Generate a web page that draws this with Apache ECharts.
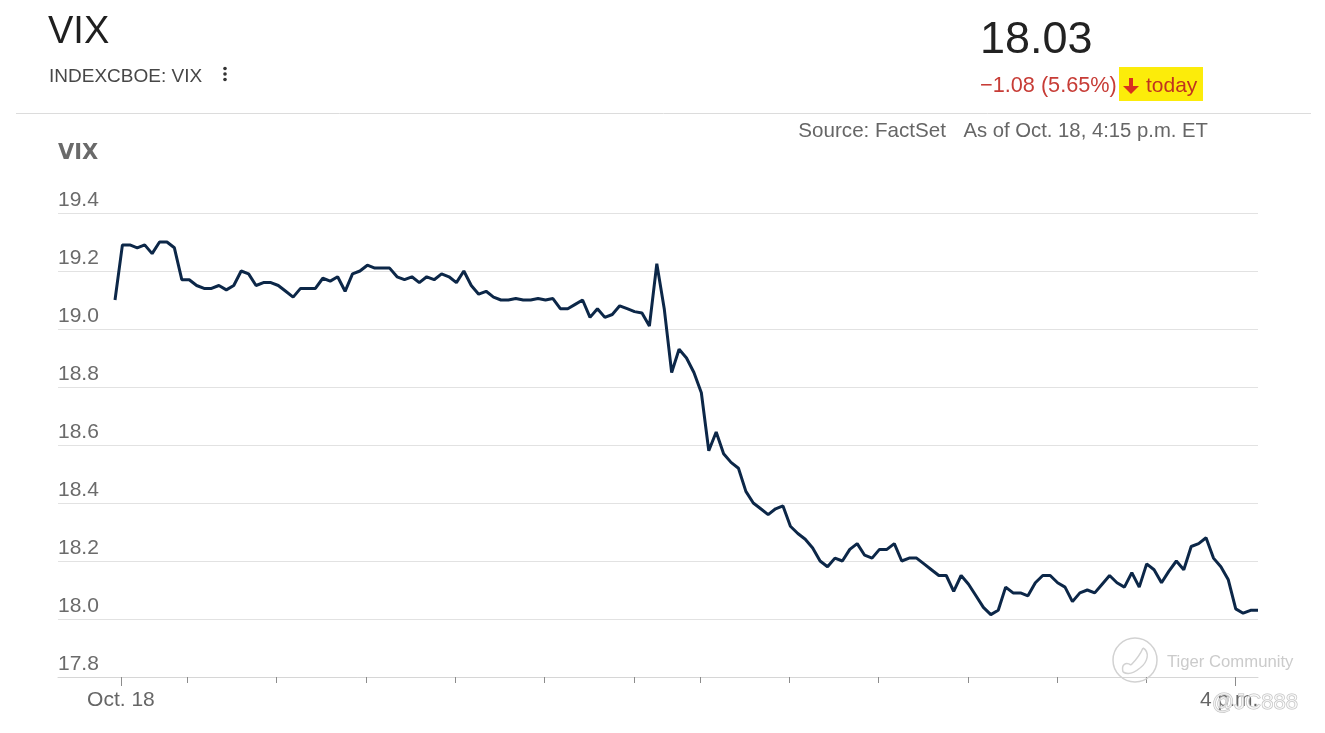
<!DOCTYPE html>
<html><head><meta charset="utf-8">
<script src="https://cdn.jsdelivr.net/npm/echarts@6/dist/echarts.min.js"></script>
<style>html,body{margin:0;padding:0;background:#fff}#c{width:1325px;height:733px}</style>
</head><body><div id="c"></div>
<script>
// VIX intraday, Oct. 18 (5-minute steps)
const values = [
19.10, 19.29, 19.29, 19.28, 19.29, 19.26, 19.30, 19.30, 19.28, 19.17,
19.17, 19.15, 19.14, 19.14, 19.15, 19.135, 19.15, 19.20, 19.19, 19.15,
19.16, 19.16, 19.15, 19.13, 19.11, 19.14, 19.14, 19.14, 19.175, 19.165,
19.18, 19.13, 19.19, 19.20, 19.22, 19.21, 19.21, 19.21, 19.18, 19.17,
19.18, 19.16, 19.18, 19.17, 19.19, 19.18, 19.16, 19.20, 19.15, 19.12,
19.13, 19.11, 19.10, 19.10, 19.105, 19.10, 19.10, 19.105, 19.10, 19.105,
19.07, 19.07, 19.085, 19.10, 19.04, 19.07, 19.04, 19.05, 19.08, 19.07,
19.06, 19.055, 19.01, 19.225, 19.07, 18.85, 18.93, 18.90, 18.85, 18.78,
18.58, 18.645, 18.57, 18.54, 18.52, 18.44, 18.40, 18.38, 18.36, 18.38,
18.39, 18.32, 18.295, 18.275, 18.245, 18.20, 18.18, 18.21, 18.20, 18.24,
18.26, 18.22, 18.21, 18.24, 18.24, 18.26, 18.20, 18.21, 18.21, 18.19,
18.17, 18.15, 18.15, 18.095, 18.15, 18.12, 18.08, 18.04, 18.015, 18.03,
18.11, 18.09, 18.09, 18.08, 18.125, 18.15, 18.15, 18.125, 18.11, 18.06,
18.09, 18.10, 18.09, 18.12, 18.15, 18.125, 18.11, 18.16, 18.11, 18.19,
18.17, 18.125, 18.165, 18.20, 18.17, 18.25, 18.26, 18.28, 18.21, 18.18,
18.135, 18.035, 18.02, 18.03, 18.03
];
// x axis in step units
const xRange = [-7.68, 154];
const hourTicks = [9.75, 21.75, 33.8, 45.8, 57.9, 69.9, 78.85, 90.85, 102.9, 114.9, 127, 139];
const labelTicks = [0.8, 151];
const tickLabels = ['Oct. 18', '4 p.m.'];
const yRange = [17.8, 19.4];
const yStep = 0.2;

const F = 'Arial, "Liberation Sans", sans-serif';
const chart = echarts.init(document.getElementById('c'));
chart.setOption({
  animation: false,
  grid: {left: 58, right: 67, top: 213, bottom: 56},
  xAxis: [{
    type: 'value', min: xRange[0], max: xRange[1], position: 'bottom',
    axisLine: {show: true, lineStyle: {color: '#d6d6d6', width: 1}},
    axisTick: {show: true, customValues: hourTicks, length: 6, lineStyle: {color: '#8c8c8c', width: 1}},
    axisLabel: {show: false}, splitLine: {show: false}
  }, {
    type: 'value', min: xRange[0], max: xRange[1], position: 'bottom', offset: 0,
    axisLine: {show: false},
    axisTick: {show: true, customValues: labelTicks, length: 9, lineStyle: {color: '#8c8c8c', width: 1}},
    axisLabel: {
      show: true, customValues: labelTicks, margin: 13,
      formatter: v => { const i = labelTicks.indexOf(v); return i === 1 ? '{r|' + tickLabels[i] + '}' : '{n|' + tickLabels[i] + '}'; },
      rich: {
        n: {fontFamily: F, fontSize: 21, color: '#666'},
        r: {fontFamily: F, fontSize: 21, color: '#666', padding: [0, 13, 0, 0]}
      }
    },
    splitLine: {show: false}
  }],
  yAxis: {
    type: 'value', min: yRange[0], max: yRange[1], interval: yStep,
    axisLine: {show: false}, axisTick: {show: false},
    axisLabel: {inside: true, margin: 0, fontFamily: F, fontSize: 21, color: '#6b6b6b', verticalAlign: 'bottom', lineHeight: 21, padding: [0, 0, 2, 0], formatter: v => v.toFixed(1)},
    splitLine: {show: true, lineStyle: {color: '#e2e2e2', width: 1}}
  },
  series: [{
    type: 'line', xAxisIndex: 0, data: values.map((v, i) => [i, v]),
    showSymbol: false, symbol: 'none', lineStyle: {color: '#0c2748', width: 3}, z: 5
  }],
  graphic: [
    {type: 'text', x: 48, y: 33, style: {text: 'VIX', fontFamily: F, fontSize: 38, fill: '#1f1f1f', align: 'left', verticalAlign: 'middle'}},
    {type: 'text', x: 49, y: 77, style: {text: 'INDEXCBOE: VIX', fontFamily: F, fontSize: 19, fill: '#474747', align: 'left', verticalAlign: 'middle'}},
    {type: 'circle', shape: {cx: 225, cy: 68.5, r: 1.8}, style: {fill: '#333'}},
    {type: 'circle', shape: {cx: 225, cy: 74, r: 1.8}, style: {fill: '#333'}},
    {type: 'circle', shape: {cx: 225, cy: 79.5, r: 1.8}, style: {fill: '#333'}},
    {type: 'line', shape: {x1: 16, y1: 113.5, x2: 1311, y2: 113.5}, style: {stroke: '#dcdcdc', lineWidth: 1}},
    {type: 'text', x: 980, y: 41, style: {text: '18.03', fontFamily: F, fontSize: 45, fill: '#222', align: 'left', verticalAlign: 'middle'}},
    {type: 'text', x: 980, y: 86, style: {text: '\u22121.08 (5.65%)', fontFamily: F, fontSize: 21.7, fill: '#c73c36', align: 'left', verticalAlign: 'middle'}},
    {type: 'rect', shape: {x: 1119, y: 67, width: 84, height: 34}, style: {fill: '#fcec0a'}},
    {type: 'polygon', shape: {points: [[1129, 78], [1133, 78], [1133, 86], [1139, 86], [1131, 94], [1123, 86], [1129, 86]]}, style: {fill: '#d9301e'}},
    {type: 'text', x: 1146, y: 86, style: {text: 'today', fontFamily: F, fontSize: 21, fill: '#c0331f', align: 'left', verticalAlign: 'middle'}},
    {type: 'text', x: 946, y: 131, style: {text: 'Source: FactSet', fontFamily: F, fontSize: 20.6, fill: '#666', align: 'right', verticalAlign: 'middle'}},
    {type: 'text', x: 1208, y: 131, style: {text: 'As of Oct. 18, 4:15 p.m. ET', fontFamily: F, fontSize: 20.3, fill: '#666', align: 'right', verticalAlign: 'middle'}},
    {type: 'text', x: 58, y: 154, style: {text: 'VIX', fontFamily: '"DejaVu Sans", sans-serif', fontWeight: 'bold', fontSize: 21, fill: '#6a6a6a', align: 'left', verticalAlign: 'middle'}},
    {type: 'circle', shape: {cx: 1135, cy: 660, r: 22}, style: {fill: 'none', stroke: '#d2d2d2', lineWidth: 1.5}, z: 20},
    {type: 'bezierCurve', shape: {x1: 1123, y1: 672, cpx1: 1121, cpy1: 664, cpx2: 1126, cpy2: 662, x2: 1131, y2: 665}, style: {fill: 'none', stroke: '#d2d2d2', lineWidth: 1.5}, z: 20},
    {type: 'bezierCurve', shape: {x1: 1131, y1: 665, cpx1: 1136, cpy1: 660, cpx2: 1140, cpy2: 655, x2: 1143, y2: 648}, style: {fill: 'none', stroke: '#d2d2d2', lineWidth: 1.5}, z: 20},
    {type: 'bezierCurve', shape: {x1: 1143, y1: 648, cpx1: 1150, cpy1: 652, cpx2: 1148, cpy2: 662, x2: 1140, y2: 668}, style: {fill: 'none', stroke: '#d2d2d2', lineWidth: 1.5}, z: 20},
    {type: 'bezierCurve', shape: {x1: 1140, y1: 668, cpx1: 1134, cpy1: 673, cpx2: 1128, cpy2: 675, x2: 1123, y2: 672}, style: {fill: 'none', stroke: '#d2d2d2', lineWidth: 1.5}, z: 20},
    {type: 'text', x: 1167, y: 662, style: {text: 'Tiger Community', fontFamily: F, fontSize: 16.7, fill: '#cbcbcb', align: 'left', verticalAlign: 'middle'}, z: 20},
    {type: 'text', x: 1212, y: 703, style: {text: '@JC888', fontFamily: F, fontSize: 22, fill: 'rgba(255,255,255,0.6)', stroke: '#bdbdbd', lineWidth: 1, align: 'left', verticalAlign: 'middle'}, z: 20}
  ]
});
</script></body></html>
